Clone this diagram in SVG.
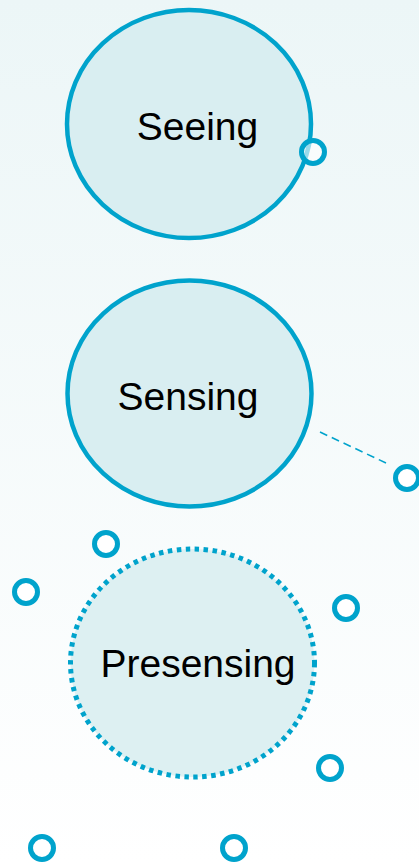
<svg xmlns="http://www.w3.org/2000/svg" width="419" height="864" viewBox="0 0 419 864">
<defs>
<linearGradient id="bg" x1="0" y1="0" x2="0" y2="1">
<stop offset="0" stop-color="#ecf6f7"/>
<stop offset="1" stop-color="#ffffff"/>
</linearGradient>
<style>
.main{fill:#d9eef1;stroke:#00a3cc;stroke-width:4.5}
.dot{fill:#ddf0f2;stroke:#00a3cc;stroke-width:5;stroke-dasharray:4.5 4.5}
.port{fill:#ffffff;stroke:#00a3cc;stroke-width:5}
.lbl{font-family:"Liberation Sans",Arial,sans-serif;font-size:39px;fill:#000;text-anchor:middle}
.conn{stroke:#00a3cc;stroke-width:1.6;stroke-dasharray:8 5;fill:none}
</style>
</defs>
<rect width="419" height="864" fill="url(#bg)"/>
<g id="connectors">
<line class="conn" x1="320" y1="432" x2="386" y2="463"/>
</g>
<g id="seeing">
<ellipse class="main" cx="189" cy="124" rx="122" ry="114"/>
<text class="lbl" x="197.5" y="140">Seeing</text>
<circle class="port" cx="313" cy="152" r="11.5" fill-opacity="0.6"/>
</g>
<g id="sensing">
<ellipse class="main" cx="189.5" cy="393.5" rx="122" ry="113"/>
<text class="lbl" x="188" y="410">Sensing</text>
</g>
<g id="presensing">
<ellipse class="dot" cx="192.5" cy="663" rx="122" ry="114"/>
<text class="lbl" x="198" y="677">Presensing</text>
</g>
<g id="ports">
<circle class="port" cx="407" cy="478" r="11.5"/>
<circle class="port" cx="106" cy="544" r="11.5"/>
<circle class="port" cx="26" cy="592" r="11.5"/>
<circle class="port" cx="346" cy="608" r="11.5"/>
<circle class="port" cx="330" cy="768" r="11.5"/>
<circle class="port" cx="42" cy="848" r="11.5"/>
<circle class="port" cx="234" cy="848" r="11.5"/>
</g>
</svg>
